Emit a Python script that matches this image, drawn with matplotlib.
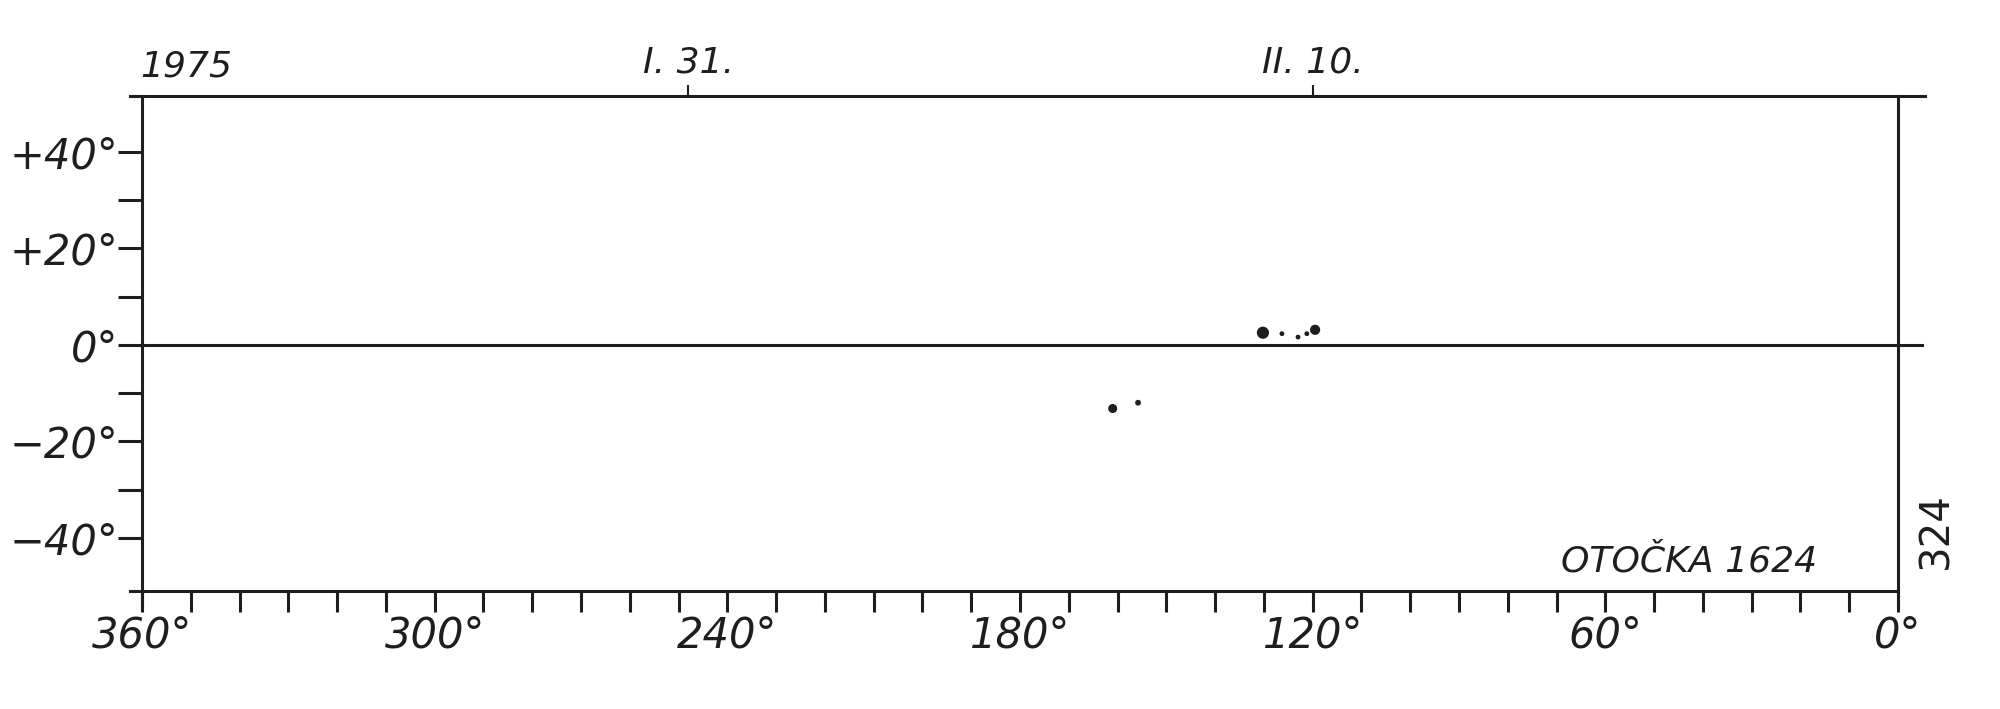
import numpy as np
import matplotlib
matplotlib.use("Agg")
import matplotlib.pyplot as plt

# Carrington longitude / latitude of the spots (degrees)
spot_lon = [161.0, 155.8, 130.2, 126.3, 123.0, 121.2, 119.5]
spot_lat = [-13.2, -12.0, 2.5, 2.3, 1.6, 2.3, 3.1]
spot_size = [30, 10, 60, 6, 6, 6, 40]

x_ticks = [360, 300, 240, 180, 120, 60, 0]
x_labels = ["360°", "300°", "240°", "180°", "120°", "60°", "0°"]
y_ticks = [40, 20, 0, -20, -40]
y_labels = ["+40°", "+20°", "0°", "−20°", "−40°"]

date_lon = [248, 120]
date_labels = ["I. 31.", "II. 10."]
year_label = "1975"
group_label = "OTOČKA 1624"
rotation_label = "324"

INK = "#1e1e1e"
LW = 2.2

plt.rcParams["font.family"] = ["DejaVu Sans"]

fig = plt.figure(figsize=(20, 7.09), dpi=100)
ax = fig.add_axes([0.071, 0.1664, 0.878, 0.698])

ax.set_xlim(360, 0)
ax.set_ylim(-51, 51.5)

for side in ["left", "right", "top", "bottom"]:
    ax.spines[side].set_linewidth(LW)
    ax.spines[side].set_color(INK)
ax.spines["top"].set_bounds(362.5, -5.5)
ax.spines["bottom"].set_bounds(362.5, 0)
ax.spines["left"].set_bounds(-54, 51.5)
ax.spines["right"].set_bounds(-54, 51.5)

# equator
ax.plot([360, -5], [0, 0], color=INK, lw=LW, clip_on=False)

# spots
ax.scatter(spot_lon, spot_lat, s=spot_size, color=INK, zorder=3)

ax.set_xticks(x_ticks)
ax.set_xticklabels(x_labels)
ax.set_xticks(np.arange(0, 361, 10), minor=True)
ax.set_yticks(y_ticks)
ax.set_yticklabels(y_labels)
ax.set_yticks(np.arange(-40, 41, 10), minor=True)

ax.tick_params(axis="x", which="both", direction="out", length=15, width=LW,
               color=INK, pad=2, labelsize=30, labelcolor=INK)
ax.tick_params(axis="y", which="both", direction="out", length=17, width=LW,
               color=INK, pad=0, labelsize=30, labelcolor=INK)
for lab in ax.get_xticklabels() + ax.get_yticklabels():
    lab.set_style("italic")

# date ticks along the top
top = ax.secondary_xaxis("top")
top.spines["top"].set_visible(False)
top.set_xticks(date_lon)
top.set_xticklabels(date_labels, style="italic")
top.tick_params(direction="out", length=8, width=1.5, color=INK, pad=4,
                labelsize=26, labelcolor=INK)

ax.text(351, 1.025, year_label, transform=ax.get_xaxis_transform(),
        ha="center", va="bottom", fontsize=26, style="italic", color=INK)
ax.text(0.954, 0.06, group_label, transform=ax.transAxes,
        ha="right", va="center", fontsize=26, style="italic", color=INK)
ax.text(1.022, 0.123, rotation_label, transform=ax.transAxes, rotation=90,
        ha="center", va="center", fontsize=29, color=INK, clip_on=False)

fig.savefig("out.png", dpi=100, facecolor="white")
